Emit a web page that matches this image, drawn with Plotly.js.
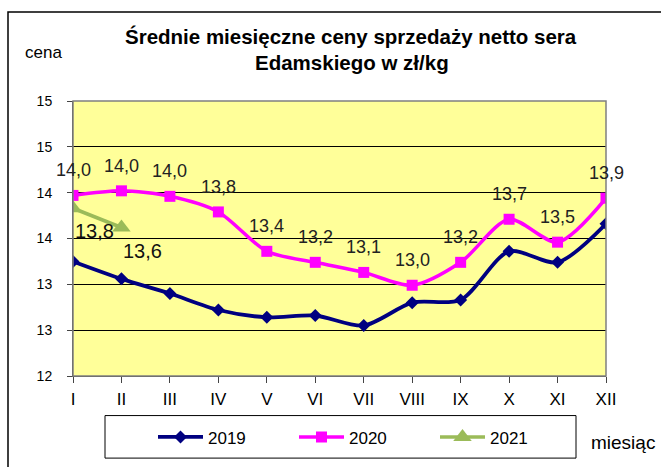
<!DOCTYPE html>
<html>
<head>
<meta charset="utf-8">
<script src="https://cdn.plot.ly/plotly-3.0.1.min.js"></script>
<style>html,body{margin:0;padding:0;background:#fff;}#chart{width:661px;height:467px;}</style>
</head>
<body>
<div id="chart"></div>
<script>
const months = ['I','II','III','IV','V','VI','VII','VIII','IX','X','XI','XII'];
const y2019 = [13.25, 13.06, 12.90, 12.72, 12.64, 12.66, 12.55, 12.80, 12.83, 13.36, 13.24, 13.66];
const y2020 = [13.97, 14.02, 13.96, 13.79, 13.36, 13.24, 13.13, 12.99, 13.24, 13.71, 13.46, 13.94];
const months2021 = ['I','II'];
const y2021 = [13.83, 13.62];
const yTickVals = [12, 12.5, 13, 13.5, 14, 14.5, 15];
const yTickText = ['12','13','13','14','14','15','15'];
const seriesNames = ['2019','2020','2021'];

const FONT = 'Liberation Sans, Arial, sans-serif';
const px = v => (v - 73) / 533;
const py = v => (379 - v) / 278;

const fmt = v => v.toFixed(1).replace('.', ',');

const traces = [
  {x: months, y: y2019, name: seriesNames[0], type: 'scatter', mode: 'lines+markers',
   line: {color: '#000080', width: 3.8, shape: 'spline', smoothing: 0.8},
   marker: {symbol: 'diamond', size: 10, color: '#000080'}},
  {x: months, y: y2020, name: seriesNames[1], type: 'scatter', mode: 'lines+markers',
   line: {color: '#FF00FF', width: 3.5, shape: 'spline', smoothing: 0.8},
   marker: {symbol: 'square', size: 11, color: '#FF00FF'}},
  {x: months2021, y: y2021, name: seriesNames[2], type: 'scatter', mode: 'lines+markers',
   line: {color: '#9BBB59', width: 3.5},
   marker: {symbol: 'triangle-up', size: 16, color: '#9BBB59'}}
];

const annotations = [];
months.forEach((m, i) => {
  annotations.push({x: m, y: y2020[i], xref: 'x', yref: 'y', text: fmt(y2020[i]),
    xanchor: 'center', yanchor: 'middle',
    showarrow: false, yshift: 25, font: {family: FONT, size: 18, color: '#222'}});
});
months2021.forEach((m, i) => {
  annotations.push({x: m, y: y2021[i], xref: 'x', yref: 'y', text: fmt(y2021[i]),
    xanchor: 'center', yanchor: 'middle',
    showarrow: false, xshift: 21, yshift: -23, font: {family: FONT, size: 20, color: '#111'}});
});
const paperNote = (x, y, text, size) => ({x: px(x), y: py(y), xref: 'paper', yref: 'paper',
  xanchor: 'center', yanchor: 'middle', showarrow: false, text: text,
  font: {family: FONT, size: size, color: '#000'}});
annotations.push(paperNote(351, 36, '<b>Średnie miesięczne ceny sprzedaży netto sera</b>', 20.5));
annotations.push(paperNote(352, 62, '<b>Edamskiego w zł/kg</b>', 20.5));
annotations.push(paperNote(43, 52, 'cena', 17));
annotations.push(paperNote(623, 446, 'miesiąc', 19));

const layout = {
  width: 661, height: 467,
  margin: {l: 73, r: 55, t: 101, b: 88},
  paper_bgcolor: '#fff', plot_bgcolor: '#FFFF99',
  showlegend: true,
  legend: {orientation: 'h', x: px(153), xanchor: 'left', y: py(441), yanchor: 'middle',
    font: {family: FONT, size: 17, color: '#000'}, itemwidth: 45, entrywidth: 81,
    bgcolor: 'rgba(0,0,0,0)', borderwidth: 0},
  xaxis: {type: 'category', range: [0, 11], showgrid: false, zeroline: false,
    ticks: 'outside', ticklen: 6, tickcolor: '#444', showline: true, linecolor: '#444', linewidth: 1,
    ticklabelstandoff: 2,
    tickfont: {family: FONT, size: 17, color: '#000'}, fixedrange: true},
  yaxis: {range: [12, 15], tickvals: yTickVals, ticktext: yTickText, showgrid: true,
    gridcolor: '#000', gridwidth: 1, zeroline: false,
    ticks: 'outside', ticklen: 5, tickcolor: '#444', showline: true, linecolor: '#444', linewidth: 1,
    ticklabelstandoff: 12,
    tickfont: {family: FONT, size: 14, color: '#000'}, fixedrange: true},
  shapes: [
    {type: 'rect', xref: 'paper', yref: 'paper', x0: 0, x1: 1, y0: 0, y1: 1,
     line: {color: '#808080', width: 1.5}, layer: 'above'},
    {type: 'rect', xref: 'paper', yref: 'paper', x0: px(8), x1: px(668), y0: py(475), y1: py(11),
     line: {color: '#000', width: 1.5}},
    {type: 'rect', xref: 'paper', yref: 'paper', x0: px(105), x1: px(576), y0: py(462), y1: py(419),
     line: {color: '#000', width: 1}}
  ],
  annotations: annotations,
  separators: ', '
};

Plotly.newPlot('chart', traces, layout, {displayModeBar: false, staticPlot: true});
</script>
</body>
</html>
